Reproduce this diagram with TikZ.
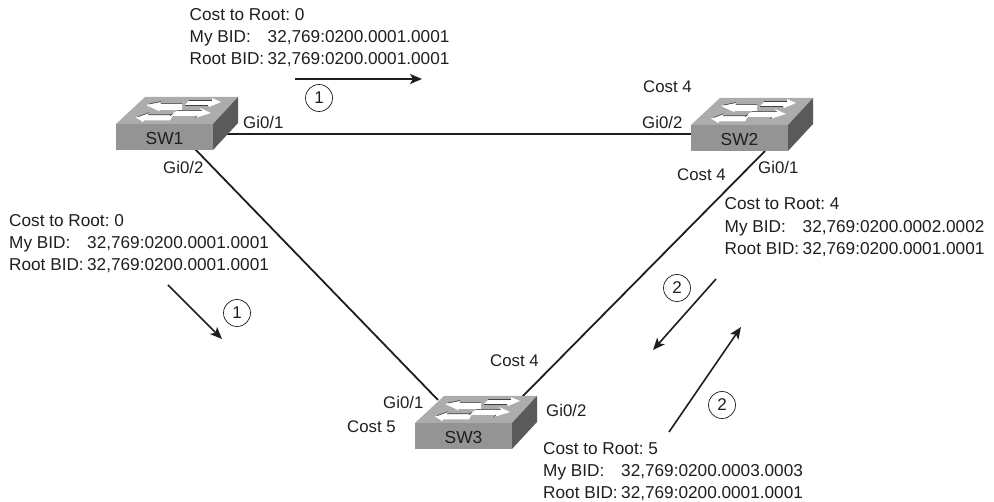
\documentclass[tikz,border=0pt]{standalone}
\usepackage{fontspec}
\setmainfont{Liberation Sans}
\usetikzlibrary{arrows.meta,positioning}
\definecolor{faceC}{RGB}{148,148,148}
\definecolor{topC}{RGB}{172,172,172}
\definecolor{sideC}{RGB}{90,90,90}
\definecolor{inkC}{RGB}{30,30,30}
\frenchspacing
\newcommand{\blk}[2]{\makebox[78pt][l]{#1}#2}
\tikzset{
  x=1pt,y=-1pt,
  lbl/.style={font=\fontsize{16.8}{20}\selectfont\frenchspacing,inner sep=0pt,anchor=base west,text=inkC},
  info/.style={font=\fontsize{17.2}{22.3}\selectfont\frenchspacing,inner sep=0pt,anchor=north west,align=left,text=inkC},
  swname/.style={font=\fontsize{17.4}{20}\selectfont,inner sep=0pt,text=inkC},
  link/.style={line width=1.8pt,inkC},
  flow/.style={line width=1.6pt,inkC,-{Stealth[length=12pt,width=10pt,inset=3pt]}},
  stepmark/.style={draw=inkC,circle,minimum size=27pt,inner sep=0pt,line width=0.7pt,font=\fontsize{17}{17}\selectfont,text=inkC},
  swface/.style={fill=faceC,draw=none,minimum width=97pt,minimum height=26pt,inner sep=0pt},
  whitearrow/.style={fill=white,draw=none},
  arrowedge/.style={black!75,line width=0.6pt}
}
% \swbox{name}{front left x}{front top y}{label}
\newcommand{\swbox}[4]{%
  \begin{scope}[shift={(#2,#3)}]
    \fill[topC] (0,0) -- (29,-27) -- (122,-27) -- (97,0) -- cycle;
    \fill[sideC] (97,0) -- (122,-27) -- (122,-1) -- (97,26) -- cycle;
    % back-left arrow
    \fill[whitearrow] (30,-19) -- (45,-22) -- (44,-20) -- (66,-20) -- (66,-14) -- (43,-14) -- (44,-12.5) -- cycle;
    \draw[arrowedge] (33,-20) -- (45,-22.5) (45,-20.3) -- (66,-20.3);
    % back-right arrow
    \fill[whitearrow] (69,-19) -- (73,-23) -- (96,-23) -- (96,-26) -- (105,-22) -- (93,-17) -- (92,-19) -- cycle;
    \draw[arrowedge] (73,-23.3) -- (96,-23.3) (69,-18.7) -- (92,-18.7);
    % front-left arrow
    \fill[whitearrow] (20,-6.5) -- (33,-11) -- (32,-9) -- (57,-9) -- (54,-3.5) -- (28,-3.5) -- (27,-2) -- cycle;
    \draw[arrowedge] (22,-7.3) -- (33,-11.3) (32,-9.2) -- (57,-9.2);
    % front-right arrow
    \fill[whitearrow] (57,-11) -- (61,-13) -- (86,-13) -- (84,-16) -- (95,-11) -- (79,-6) -- (81,-8) -- (54,-8) -- cycle;
    \draw[arrowedge] (61,-13.3) -- (86,-13.3) (57,-10.8) -- (54,-8) (79,-6) -- (81,-8);
    \node[swface,anchor=north west] (#1) at (0,0) {};
    \node[swname] at (48.5,14.5) {#4};
  \end{scope}}
\begin{document}
\begin{tikzpicture}
\useasboundingbox (0,0) rectangle (994,502);
% link end points
\coordinate (a1) at (222,134);
\coordinate (b1) at (692,134);
\coordinate (a2) at (195,149);
\coordinate (c1) at (438,400);
\coordinate (b2) at (765,151);
\coordinate (c2) at (522,397);
\draw[link] (a1) -- (b1);
\draw[link] (a2) -- (c1);
\draw[link] (b2) -- (c2);
\swbox{sw1}{116}{124}{SW1}
\swbox{sw2}{691}{125}{SW2}
\swbox{sw3}{415}{423}{SW3}
% info blocks
\node[info] (i1) at (189.5,8) {Cost to Root: 0\\\blk{My BID:}{32,769:0200.0001.0001}\\\blk{Root BID:}{32,769:0200.0001.0001}};
\node[info] (i2) at (9,214) {Cost to Root: 0\\\blk{My BID:}{32,769:0200.0001.0001}\\\blk{Root BID:}{32,769:0200.0001.0001}};
\node[info] (i3) at (724.5,197.5) {Cost to Root: 4\\\blk{My BID:}{32,769:0200.0002.0002}\\\blk{Root BID:}{32,769:0200.0001.0001}};
\node[info] (i4) at (543,442) {Cost to Root: 5\\\blk{My BID:}{32,769:0200.0003.0003}\\\blk{Root BID:}{32,769:0200.0001.0001}};
% labels
\node[lbl] (l1) at (243,129) {Gi0/1};
\node[lbl] (l2) at (163,174) {Gi0/2};
\node[lbl] (l3) at (642,129) {Gi0/2};
\node[lbl] (l4) at (758,174) {Gi0/1};
\node[lbl] (l5) at (643,93) {Cost 4};
\node[lbl] (l6) at (677,181) {Cost 4};
\node[lbl] (l7) at (490,367) {Cost 4};
\node[lbl] (l8) at (383,409) {Gi0/1};
\node[lbl] (l9) at (546,417) {Gi0/2};
\node[lbl] (l10) at (347,433) {Cost 5};
% flows
\coordinate (f1s) at (295,79); \coordinate (f1e) at (422,79);
\coordinate (f2s) at (168,285); \coordinate (f2e) at (222,339);
\coordinate (f3s) at (716,279); \coordinate (f3e) at (653,350);
\coordinate (f4s) at (669,432); \coordinate (f4e) at (741,327);
\draw[flow] (f1s) -- (f1e);
\draw[flow] (f2s) -- (f2e);
\draw[flow] (f3s) -- (f3e);
\draw[flow] (f4s) -- (f4e);
\node[stepmark] (m1) at (319,98) {1};
\node[stepmark] (m2) at (237,313) {1};
\node[stepmark] (m3) at (677,288) {2};
\node[stepmark] (m4) at (722,405) {2};
\end{tikzpicture}
\end{document}
